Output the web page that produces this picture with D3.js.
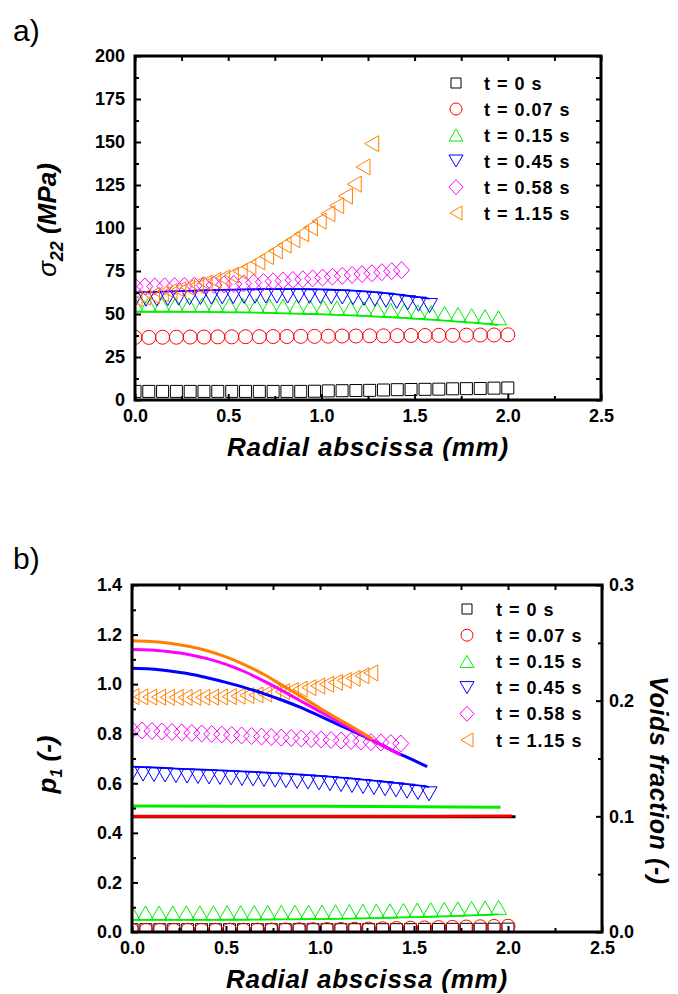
<!DOCTYPE html>
<html><head><meta charset="utf-8">
<script src="https://cdn.jsdelivr.net/npm/d3@7"></script>
<style>
body{margin:0;background:#fff}
svg{display:block}
text{font-family:"Liberation Sans",Arial,sans-serif}
</style>
</head><body>
<svg id="c" width="678" height="994"></svg>
<script>
// ---------------- DATA ----------------
const seriesLabels = ["t = 0 s","t = 0.07 s","t = 0.15 s","t = 0.45 s","t = 0.58 s","t = 1.15 s"];
const seriesColors = ["#000000","#ff0000","#00ee00","#0000ff","#ff00ff","#ff8000"];
const seriesSymbols = ["square","circle","triUp","triDown","diamond","triLeft"];

const xTicks = [0,0.5,1,1.5,2,2.5];
const xTickLabels = ["0.0","0.5","1.0","1.5","2.0","2.5"];
const xMinorTicks = [0.25,0.75,1.25,1.75,2.25];
const sigmaTicks = [0,25,50,75,100,125,150,175,200];
const sigmaTickLabels = ["0","25","50","75","100","125","150","175","200"];
const sigmaMinorTicks = [12.5,37.5,62.5,87.5,112.5,137.5,162.5,187.5];
const p1Ticks = [0,0.2,0.4,0.6,0.8,1.0,1.2,1.4];
const p1TickLabels = ["0.0","0.2","0.4","0.6","0.8","1.0","1.2","1.4"];
const p1MinorTicks = [0.1,0.3,0.5,0.7,0.9,1.1,1.3];
const voidsTicks = [0,0.1,0.2,0.3];
const voidsTickLabels = ["0.0","0.1","0.2","0.3"];
const voidsMinorTicks = [0.05,0.15,0.25];

// radial positions of the markers (mm)
const xT0   = [0,0.074,0.148,0.222,0.296,0.370,0.444,0.519,0.593,0.667,0.741,0.815,0.889,0.963,1.037,1.111,1.185,1.259,1.333,1.407,1.481,1.556,1.630,1.704,1.778,1.852,1.926,2.000];
const xT007 = [0,0.074,0.148,0.222,0.296,0.370,0.444,0.519,0.593,0.667,0.741,0.815,0.889,0.963,1.037,1.111,1.185,1.259,1.333,1.407,1.481,1.556,1.630,1.704,1.778,1.852,1.926,2.000];
const xT015 = [0,0.072,0.144,0.217,0.289,0.361,0.433,0.506,0.578,0.650,0.722,0.794,0.867,0.939,1.011,1.083,1.156,1.228,1.300,1.372,1.444,1.517,1.589,1.661,1.733,1.806,1.878,1.950];
const xT045 = [0,0.059,0.117,0.176,0.234,0.293,0.351,0.410,0.468,0.527,0.585,0.644,0.702,0.761,0.819,0.878,0.936,0.995,1.053,1.112,1.170,1.229,1.287,1.346,1.404,1.463,1.521,1.580];
const xT058 = [0,0.053,0.106,0.159,0.212,0.265,0.318,0.371,0.424,0.477,0.530,0.583,0.636,0.689,0.741,0.794,0.847,0.900,0.953,1.006,1.059,1.112,1.165,1.218,1.271,1.324,1.377,1.430];
const xT115 = [0,0.047,0.094,0.141,0.188,0.235,0.282,0.329,0.376,0.423,0.470,0.517,0.564,0.611,0.659,0.706,0.753,0.800,0.847,0.894,0.941,0.988,1.035,1.082,1.129,1.176,1.223,1.270];

// panel a) sigma22 (MPa)
const sigmaT0   = [5.0,5.0,5.0,5.0,5.0,5.0,5.0,5.0,5.0,5.0,5.0,5.0,5.0,5.1,5.3,5.4,5.5,5.6,5.8,6.0,6.1,6.2,6.3,6.5,6.6,6.7,6.9,7.0];
const sigmaT007 = [36.4,36.4,36.5,36.5,36.6,36.6,36.7,36.7,36.8,36.8,36.9,36.9,37.0,37.0,37.1,37.2,37.2,37.3,37.3,37.4,37.5,37.5,37.6,37.6,37.7,37.8,37.8,37.9];
const sigmaT015 = [51.3,51.3,51.3,51.3,51.2,51.2,51.1,51.0,50.9,50.8,50.6,50.4,50.2,50.0,49.8,49.5,49.2,48.9,48.5,48.1,47.7,47.2,46.7,46.2,45.6,45.0,44.4,43.7];
const sigmaT045 = [62.5,62.7,62.9,63.1,63.3,63.5,63.7,63.9,64.0,64.2,64.3,64.4,64.5,64.5,64.5,64.5,64.4,64.3,64.1,63.9,63.6,63.2,62.7,62.1,61.4,60.6,59.8,59.0];
const sigmaT058 = [66.0,66.0,66.0,66.1,66.2,66.3,66.5,66.7,66.9,67.2,67.5,67.8,68.2,68.6,69.0,69.4,69.8,70.2,70.7,71.2,71.7,72.2,72.7,73.2,73.7,74.3,74.9,75.5];
const sigmaT115 = [59.0,59.8,60.8,61.8,63.0,64.2,65.4,66.7,68.0,69.5,71.0,72.6,74.7,77.4,80.3,83.4,86.7,90.0,93.2,96.6,100.2,104.0,108.3,113.0,118.5,125.5,135.5,149.0];

// panel b) voids fraction (right axis, markers)
const voidsT0   = [0.002,0.002,0.002,0.002,0.002,0.002,0.002,0.002,0.002,0.002,0.002,0.002,0.002,0.002,0.002,0.002,0.002,0.002,0.002,0.002,0.002,0.0022,0.0022,0.0023,0.0023,0.0024,0.0024,0.0025];
const voidsT007 = [0.0015,0.0015,0.0015,0.0015,0.0015,0.0015,0.0015,0.0016,0.0016,0.0017,0.0017,0.0018,0.0019,0.0020,0.0021,0.0022,0.0024,0.0026,0.0028,0.0030,0.0033,0.0035,0.0038,0.0040,0.0043,0.0045,0.0048,0.0050];
const voidsT015 = [0.0104,0.0104,0.0104,0.0104,0.0105,0.0105,0.0105,0.0106,0.0106,0.0107,0.0108,0.0109,0.0110,0.0111,0.0112,0.0114,0.0116,0.0118,0.0120,0.0123,0.0126,0.0129,0.0132,0.0135,0.0139,0.0143,0.0147,0.0152];
const voidsT045 = [0.1430,0.1426,0.1422,0.1418,0.1413,0.1409,0.1405,0.1401,0.1397,0.1393,0.1388,0.1384,0.1379,0.1374,0.1369,0.1363,0.1357,0.1350,0.1343,0.1335,0.1327,0.1318,0.1309,0.1299,0.1289,0.1278,0.1267,0.1255];
const voidsT058 = [0.1746,0.1742,0.1738,0.1733,0.1729,0.1725,0.1720,0.1716,0.1712,0.1707,0.1703,0.1699,0.1694,0.1690,0.1686,0.1681,0.1677,0.1673,0.1668,0.1664,0.1660,0.1655,0.1651,0.1647,0.1642,0.1638,0.1634,0.1630];
const voidsT115 = [0.2035,0.2033,0.2031,0.2030,0.2029,0.2028,0.2028,0.2028,0.2029,0.2030,0.2032,0.2035,0.2039,0.2044,0.2050,0.2058,0.2067,0.2077,0.2088,0.2100,0.2113,0.2127,0.2142,0.2158,0.2175,0.2193,0.2215,0.2240];

// panel b) p1 (left axis, thick lines)
const p1xT0   = [0,2.04];
const p1T0    = [0.465,0.465];
const p1xT007 = [0,1.1,2.02];
const p1T007  = [0.467,0.467,0.468];
const p1xT015 = [0,1.0,1.5,1.96];
const p1T015  = [0.508,0.507,0.505,0.503];
const p1xT045 = [0,0.1,0.2,0.3,0.4,0.5,0.6,0.7,0.8,0.9,1.0,1.1,1.2,1.3,1.4,1.5,1.57];
const p1T045  = [1.064,1.061,1.053,1.042,1.026,1.007,0.986,0.962,0.935,0.905,0.871,0.836,0.801,0.765,0.727,0.692,0.667];
const p1xT058 = [0,0.1,0.2,0.3,0.4,0.5,0.6,0.7,0.8,0.9,1.0,1.1,1.2,1.3,1.43];
const p1T058  = [1.140,1.138,1.131,1.120,1.103,1.080,1.050,1.013,0.973,0.931,0.889,0.848,0.806,0.765,0.714];
const p1xT115 = [0,0.1,0.2,0.3,0.4,0.5,0.6,0.7,0.8,0.9,1.0,1.1,1.2,1.28];
const p1T115  = [1.175,1.172,1.165,1.153,1.135,1.110,1.078,1.040,0.995,0.950,0.903,0.858,0.815,0.778];

// ---------------- DRAWING ----------------
const svg = d3.select("#c");

function symbolPath(type, w, h, anchored) {
  const p = d3.path();
  if (type === "square") { p.rect(-w/2,-h/2,w,h); }
  else if (type === "circle") { p.moveTo(w/2,0); p.arc(0,0,w/2,0,2*Math.PI); p.closePath(); }
  else if (type === "triUp") { const b = anchored ? 0 : h/2; p.moveTo(-w/2,b); p.lineTo(w/2,b); p.lineTo(0,b-h); p.closePath(); }
  else if (type === "triDown") { const t = anchored ? 0 : -h/2; p.moveTo(-w/2,t); p.lineTo(w/2,t); p.lineTo(0,t+h); p.closePath(); }
  else if (type === "diamond") { p.moveTo(0,-h/2); p.lineTo(w/2,0); p.lineTo(0,h/2); p.lineTo(-w/2,0); p.closePath(); }
  else if (type === "triLeft") { p.moveTo(w/2,-h/2); p.lineTo(w/2,h/2); p.lineTo(-w/2,0); p.closePath(); }
  return p.toString();
}
const markerSize = {square:[12,12],circle:[14,14],triUp:[16,14],triDown:[16,14],diamond:[16,17],triLeft:[14,16]};
const legendSize = {square:[10,10],circle:[12,12],triUp:[14,12],triDown:[14,12],diamond:[14,15],triLeft:[12,14]};

function styleAxis(g) {
  g.select(".domain").remove();
  g.selectAll(".tick line").attr("stroke","#000").attr("stroke-width",2);
  g.selectAll(".tick text").attr("font-size",18).attr("font-weight","bold")
    .attr("font-family","'Liberation Sans',Arial,sans-serif").attr("fill","#000");
}

function frame(P, id) {
  svg.append("defs").append("clipPath").attr("id",id)
    .append("rect").attr("x",P.left).attr("y",P.top).attr("width",P.right-P.left).attr("height",P.bottom-P.top);
}

function drawMarkers(g, xs, ys, xScale, yScale, i) {
  const type = seriesSymbols[i];
  const [w,h] = markerSize[type];
  const pts = xs.map((x,k)=>[x, ys[k]]);
  if (type === "triUp" || type === "triDown") {
    g.append("path").datum(pts)
      .attr("d", d3.line().x(d=>xScale(d[0])).y(d=>yScale(d[1])))
      .attr("fill","none").attr("stroke",seriesColors[i]).attr("stroke-width",1.8);
  }
  g.selectAll(null).data(pts).enter().append("path")
    .attr("transform", d=>`translate(${xScale(d[0])},${yScale(d[1])})`)
    .attr("d", symbolPath(type,w,h,true))
    .attr("fill","none").attr("stroke",seriesColors[i]).attr("stroke-width",1);
}

function drawLegend(sx, tx, y0, dy) {
  const g = svg.append("g");
  seriesLabels.forEach((lab,i)=>{
    const type = seriesSymbols[i];
    const [w,h] = legendSize[type];
    const y = y0 + i*dy;
    g.append("path").attr("transform",`translate(${sx},${y})`)
      .attr("d", symbolPath(type,w,h,false))
      .attr("fill","none").attr("stroke",seriesColors[i]).attr("stroke-width",1);
    g.append("text").attr("x",tx).attr("y",y+6.5).attr("font-size",18).attr("font-weight","bold")
      .attr("letter-spacing",1).text(lab);
  });
}

// ======== Panel a ========
const A = {left:135, right:601, top:56, bottom:400};
const xA = d3.scaleLinear().domain([0,2.5]).range([A.left,A.right]);
const yA = d3.scaleLinear().domain([0,200]).range([A.bottom,A.top]);
frame(A,"clipA");

const gA = svg.append("g").attr("clip-path","url(#clipA)");
const sigmaX = [xT0,xT007,xT015,xT045,xT058,xT115];
const sigmaY = [sigmaT0,sigmaT007,sigmaT015,sigmaT045,sigmaT058,sigmaT115];
sigmaY.forEach((ys,i)=> drawMarkers(gA, sigmaX[i], ys, xA, yA, i));

svg.append("g").attr("transform",`translate(0,${A.bottom})`)
  .call(d3.axisBottom(xA).tickValues(xTicks).tickFormat((d,i)=>xTickLabels[i]).tickSizeInner(-6).tickSizeOuter(0).tickPadding(9)).call(styleAxis);
svg.append("g").attr("transform",`translate(0,${A.bottom})`)
  .call(d3.axisBottom(xA).tickValues(xMinorTicks).tickFormat("").tickSize(-4)).call(styleAxis);
svg.append("g").attr("transform",`translate(0,${A.top})`)
  .call(d3.axisTop(xA).tickValues(xTicks.concat(xMinorTicks)).tickFormat("").tickSize(-5)).call(styleAxis);
svg.append("g").attr("transform",`translate(${A.left},0)`)
  .call(d3.axisLeft(yA).tickValues(sigmaTicks).tickFormat((d,i)=>sigmaTickLabels[i]).tickSizeInner(-6).tickSizeOuter(0).tickPadding(10)).call(styleAxis);
svg.append("g").attr("transform",`translate(${A.left},0)`)
  .call(d3.axisLeft(yA).tickValues(sigmaMinorTicks).tickFormat("").tickSize(-4)).call(styleAxis);
svg.append("g").attr("transform",`translate(${A.right},0)`)
  .call(d3.axisRight(yA).tickValues(sigmaTicks.concat(sigmaMinorTicks)).tickFormat("").tickSize(-5)).call(styleAxis);
svg.append("rect").attr("x",A.left).attr("y",A.top).attr("width",A.right-A.left).attr("height",A.bottom-A.top)
  .attr("fill","none").attr("stroke","#000").attr("stroke-width",3);

drawLegend(456, 484, 83, 26);

svg.append("text").attr("x",13).attr("y",41).attr("font-size",30).text("a)");
svg.append("text").attr("x",(A.left+A.right)/2).attr("y",456).attr("text-anchor","middle")
  .attr("font-size",26).attr("font-weight","bold").attr("font-style","italic").attr("letter-spacing",0.8)
  .text("Radial abscissa (mm)");
const ytA = svg.append("text").attr("transform",`translate(56,${(A.top+A.bottom)/2 - 8}) rotate(-90)`)
  .attr("text-anchor","middle").attr("font-size",26).attr("font-weight","bold").attr("font-style","italic");
ytA.append("tspan").attr("font-weight","normal").text("σ");
ytA.append("tspan").attr("font-size",18).attr("dy",7).text("22");
ytA.append("tspan").attr("dy",-7).text(" (MPa)");

// ======== Panel b ========
const B = {left:132, right:602, top:585, bottom:932};
const xB = d3.scaleLinear().domain([0,2.5]).range([B.left,B.right]);
const yB = d3.scaleLinear().domain([0,1.4]).range([B.bottom,B.top]);
const yV = d3.scaleLinear().domain([0,0.3]).range([B.bottom,B.top]);
frame(B,"clipB");

const gB = svg.append("g").attr("clip-path","url(#clipB)");
const voidsX = [xT0,xT007,xT015,xT045,xT058,xT115];
const voidsY = [voidsT0,voidsT007,voidsT015,voidsT045,voidsT058,voidsT115];
voidsY.forEach((ys,i)=> drawMarkers(gB, voidsX[i], ys, xB, yV, i));

const p1X = [p1xT0,p1xT007,p1xT015,p1xT045,p1xT058,p1xT115];
const p1Y = [p1T0,p1T007,p1T015,p1T045,p1T058,p1T115];
p1Y.forEach((ys,i)=>{
  const pts = p1X[i].map((x,k)=>[x, ys[k]]);
  gB.append("path").datum(pts)
    .attr("d", d3.line().curve(d3.curveMonotoneX).x(d=>xB(d[0])).y(d=>yB(d[1])))
    .attr("fill","none").attr("stroke",seriesColors[i]).attr("stroke-width",3);
});

svg.append("g").attr("transform",`translate(0,${B.bottom})`)
  .call(d3.axisBottom(xB).tickValues(xTicks).tickFormat((d,i)=>xTickLabels[i]).tickSizeInner(-6).tickSizeOuter(0).tickPadding(9)).call(styleAxis);
svg.append("g").attr("transform",`translate(0,${B.bottom})`)
  .call(d3.axisBottom(xB).tickValues(xMinorTicks).tickFormat("").tickSize(-4)).call(styleAxis);
svg.append("g").attr("transform",`translate(0,${B.top})`)
  .call(d3.axisTop(xB).tickValues(xTicks.concat(xMinorTicks)).tickFormat("").tickSize(-5)).call(styleAxis);
svg.append("g").attr("transform",`translate(${B.left},0)`)
  .call(d3.axisLeft(yB).tickValues(p1Ticks).tickFormat((d,i)=>p1TickLabels[i]).tickSizeInner(-6).tickSizeOuter(0).tickPadding(10)).call(styleAxis);
svg.append("g").attr("transform",`translate(${B.left},0)`)
  .call(d3.axisLeft(yB).tickValues(p1MinorTicks).tickFormat("").tickSize(-4)).call(styleAxis);
svg.append("g").attr("transform",`translate(${B.right},0)`)
  .call(d3.axisRight(yV).tickValues(voidsTicks).tickFormat((d,i)=>voidsTickLabels[i]).tickSizeInner(-6).tickSizeOuter(0).tickPadding(7)).call(styleAxis);
svg.append("g").attr("transform",`translate(${B.right},0)`)
  .call(d3.axisRight(yV).tickValues(voidsMinorTicks).tickFormat("").tickSize(-4)).call(styleAxis);
svg.append("rect").attr("x",B.left).attr("y",B.top).attr("width",B.right-B.left).attr("height",B.bottom-B.top)
  .attr("fill","none").attr("stroke","#000").attr("stroke-width",3);

drawLegend(467, 496, 609, 26.2);

svg.append("text").attr("x",13).attr("y",569).attr("font-size",30).text("b)");
svg.append("text").attr("x",(B.left+B.right)/2).attr("y",988).attr("text-anchor","middle")
  .attr("font-size",26).attr("font-weight","bold").attr("font-style","italic").attr("letter-spacing",0.8)
  .text("Radial abscissa (mm)");
const ytB = svg.append("text").attr("transform",`translate(56,${(B.top+B.bottom)/2 + 6}) rotate(-90)`)
  .attr("text-anchor","middle").attr("font-size",26).attr("font-weight","bold").attr("font-style","italic");
ytB.append("tspan").text("p");
ytB.append("tspan").attr("font-size",16).attr("dy",6).text("1");
ytB.append("tspan").attr("dy",-6).text(" (-)");
svg.append("text").attr("transform",`translate(650,${(B.top+B.bottom)/2 + 22}) rotate(90)`)
  .attr("text-anchor","middle").attr("font-size",25).attr("font-weight","bold").attr("font-style","italic")
  .attr("letter-spacing",0.6).text("Voids fraction (-)");
</script>
</body></html>
